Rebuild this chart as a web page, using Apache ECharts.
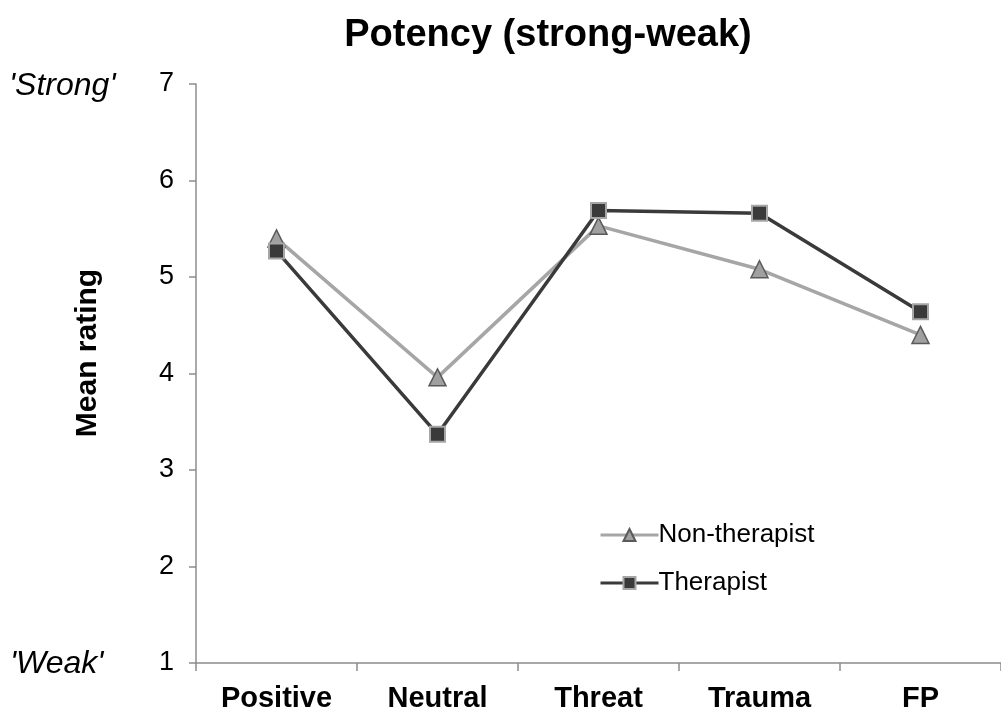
<!DOCTYPE html>
<html>
<head>
<meta charset="utf-8">
<script src="https://cdn.jsdelivr.net/npm/echarts@6/dist/echarts.min.js"></script>
<style>
  html, body { margin: 0; padding: 0; background: #fff; }
  #chart { width: 1001px; height: 717px; }
</style>
</head>
<body>
<div id="chart"></div>
<script>
// chart data
var categories = ['Positive', 'Neutral', 'Threat', 'Trauma', 'FP'];
var nonTherapist = [5.40, 3.96, 5.53, 5.08, 4.40];
var therapist = [5.27, 3.37, 5.69, 5.66, 4.64];
var yTicks = [1, 7];

var font = 'Liberation Sans, Arial, Helvetica, sans-serif';

var myChart = echarts.init(document.getElementById('chart'));

var option = {
    backgroundColor: '#fff',
    animation: false,
    title: {
        text: 'Potency (strong-weak)',
        left: 543,
        textAlign: 'center',
        top: 12,
        textStyle: {
            fontFamily: font,
            fontSize: 38,
            fontWeight: 'bold',
            color: '#000'
        }
    },
    legend: {
        orient: 'vertical',
        left: 594,
        top: 517,
        itemWidth: 58,
        itemHeight: 15,
        itemGap: 22,
        lineStyle: { width: 3 },
        textStyle: {
            fontFamily: font,
            fontSize: 26,
            color: '#000',
            padding: [0, 0, 0, -5]
        },
        data: ['Non-therapist', 'Therapist']
    },
    grid: {
        left: 196,
        right: -2,
        top: 84,
        bottom: 54,
        containLabel: false
    },
    xAxis: {
        type: 'category',
        data: categories,
        boundaryGap: true,
        axisLine: { lineStyle: { color: '#8c8c8c', width: 1.5 } },
        axisTick: { show: true, length: 8, lineStyle: { color: '#8c8c8c', width: 1.5 } },
        axisLabel: {
            margin: 21,
            fontFamily: font,
            fontSize: 29,
            fontWeight: 'bold',
            color: '#000'
        }
    },
    yAxis: {
        type: 'value',
        min: yTicks[0],
        max: yTicks[1],
        interval: 1,
        axisLine: { show: true, lineStyle: { color: '#8c8c8c', width: 1.5 } },
        axisTick: { show: true, length: 7, lineStyle: { color: '#8c8c8c', width: 1.5 } },
        splitLine: { show: false },
        axisLabel: {
            margin: 22,
            fontFamily: font,
            fontSize: 27,
            color: '#000'
        }
    },
    graphic: [
        {
            type: 'text',
            x: 88,
            y: 353,
            rotation: Math.PI / 2,
            style: {
                text: 'Mean rating',
                font: 'bold 30px ' + font,
                fill: '#000',
                align: 'center',
                verticalAlign: 'middle'
            }
        },
        {
            type: 'text',
            x: 9,
            y: 86,
            style: {
                text: "'Strong'",
                font: 'italic 32px ' + font,
                fill: '#000',
                verticalAlign: 'middle'
            }
        },
        {
            type: 'text',
            x: 10,
            y: 664,
            style: {
                text: "'Weak'",
                font: 'italic 32px ' + font,
                fill: '#000',
                verticalAlign: 'middle'
            }
        }
    ],
    series: [
        {
            name: 'Non-therapist',
            type: 'line',
            data: nonTherapist,
            symbol: 'triangle',
            symbolSize: 17,
            lineStyle: { color: '#a6a6a6', width: 3.5 },
            itemStyle: { color: '#a0a0a0', borderColor: '#5a5a5a', borderWidth: 1.5 }
        },
        {
            name: 'Therapist',
            type: 'line',
            data: therapist,
            symbol: 'rect',
            symbolSize: 15,
            lineStyle: { color: '#3a3a3a', width: 3.5 },
            itemStyle: { color: '#3a3a3a', borderColor: '#a6a6a6', borderWidth: 2 }
        }
    ]
};

myChart.setOption(option);
</script>
</body>
</html>
